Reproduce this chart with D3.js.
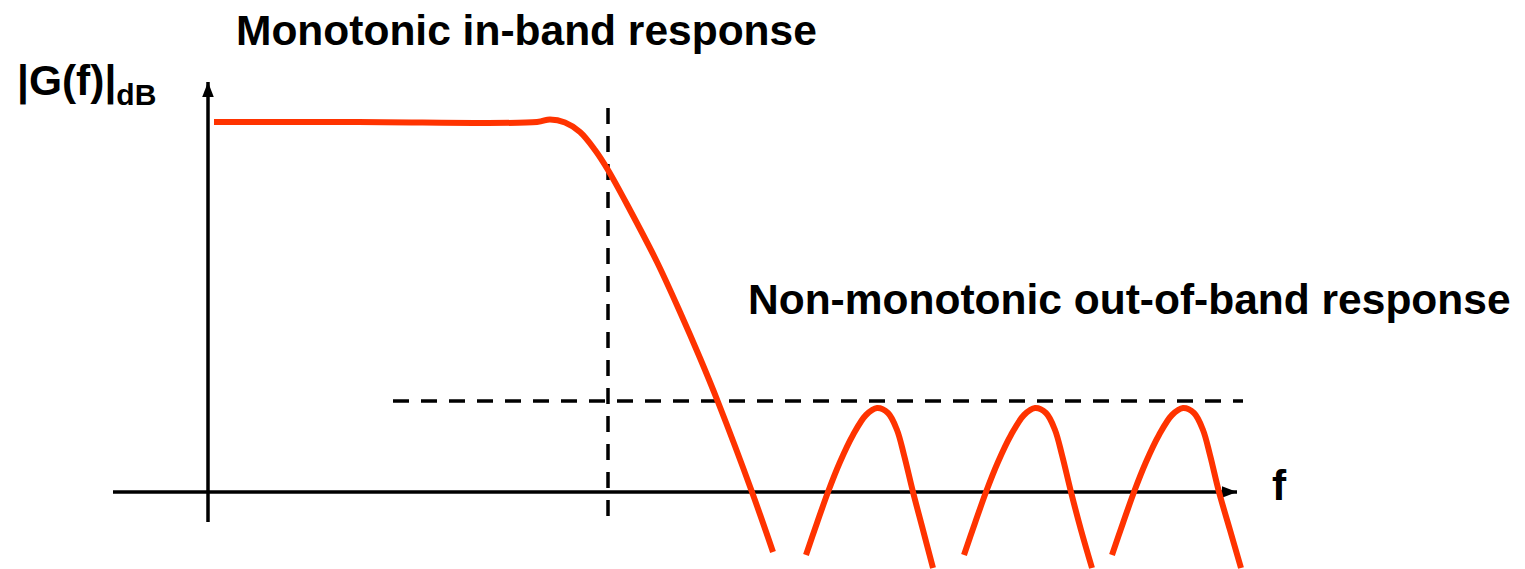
<!DOCTYPE html>
<html>
<head>
<meta charset="utf-8">
<script src="https://cdn.jsdelivr.net/npm/d3@7"></script>
<style>
  body { margin: 0; background: #fff; }
  text { font-family: "Liberation Sans", Arial, sans-serif; font-weight: bold; fill: #000; }
</style>
</head>
<body>
<div id="chart"></div>
<script>
// frequency in arbitrary units, gain in dB (passband = 0 dB)
var passband = [
  [0.06, 0], [1.5, 0], [3.29, 0], [3.42, 0.25], [3.57, -0.05], [3.72, -1],
  [3.87, -2.8], [4.0, -4.8], [4.22, -8.8], [4.49, -14], [4.72, -19],
  [4.92, -23.6], [5.1, -28], [5.44, -37], [5.65, -43]
];
var lobes = [
  [[5.98, -43.3], [6.09, -40.1], [6.2, -37], [6.32, -34], [6.45, -31.3], [6.58, -29.3], [6.69, -28.6],
   [6.8, -29.1], [6.89, -30.8], [6.96, -33.3], [7.05, -37], [7.15, -40.8], [7.25, -44.6]],
  [[7.56, -43.3], [7.67, -40.1], [7.78, -37], [7.9, -34], [8.03, -31.3], [8.16, -29.3], [8.27, -28.6],
   [8.38, -29.1], [8.47, -30.8], [8.54, -33.3], [8.63, -37], [8.73, -40.8], [8.84, -44.6]],
  [[9.04, -43.3], [9.15, -40.1], [9.26, -37], [9.38, -34], [9.51, -31.3], [9.64, -29.3], [9.75, -28.6],
   [9.86, -29.1], [9.95, -30.8], [10.02, -33.3], [10.11, -37], [10.22, -40.8], [10.33, -44.6]]
];
var cutoffF = 4.0;           // vertical dashed line
var stopbandLevel = -27.9;   // horizontal dashed line
var axisLevel = -37;         // where the f axis sits
var labels = {
  top: "Monotonic in-band response",
  side: "Non-monotonic out-of-band response",
  yName: "|G(f)|",
  ySub: "dB",
  xName: "f"
};

var width = 1525, height = 569;
var svg = d3.select("#chart").append("svg")
  .attr("width", width).attr("height", height);

var x = d3.scaleLinear().domain([0, 10]).range([208, 1208]);
var y = d3.scaleLinear().domain([0, -37]).range([122, 492]);

var defs = svg.append("defs");
defs.append("marker")
  .attr("id", "arrow")
  .attr("viewBox", "0 0 10 10")
  .attr("refX", 10).attr("refY", 5)
  .attr("markerWidth", 4.4).attr("markerHeight", 3.4)
  .attr("markerUnits", "strokeWidth")
  .attr("orient", "auto")
  .attr("preserveAspectRatio", "none")
  .append("path").attr("d", "M0,0 L10,5 L0,10 Z").attr("fill", "#000");

// axes
svg.append("line")
  .attr("x1", x(-0.95)).attr("x2", x(10.29))
  .attr("y1", y(axisLevel)).attr("y2", y(axisLevel))
  .attr("stroke", "#000").attr("stroke-width", 3.5)
  .attr("marker-end", "url(#arrow)");
svg.append("line")
  .attr("x1", x(0)).attr("x2", x(0))
  .attr("y1", y(-40)).attr("y2", y(4))
  .attr("stroke", "#000").attr("stroke-width", 3.5)
  .attr("marker-end", "url(#arrow)");

// dashed guides
svg.append("line")
  .attr("x1", x(cutoffF)).attr("x2", x(cutoffF))
  .attr("y1", y(1.4)).attr("y2", y(-39.6))
  .attr("stroke", "#000").attr("stroke-width", 3.5)
  .attr("stroke-dasharray", "16,12");
svg.append("line")
  .attr("x1", x(1.85)).attr("x2", x(10.35))
  .attr("y1", y(stopbandLevel)).attr("y2", y(stopbandLevel))
  .attr("stroke", "#000").attr("stroke-width", 3.5)
  .attr("stroke-dasharray", "16,12");

// response curve
var line = d3.line()
  .x(function(d){ return x(d[0]); })
  .y(function(d){ return y(d[1]); })
  .curve(d3.curveCatmullRom.alpha(0.5));

[passband].concat(lobes).forEach(function(seg){
  svg.append("path")
    .attr("d", line(seg))
    .attr("fill", "none")
    .attr("stroke", "#ff3300")
    .attr("stroke-width", 6);
});

// texts
svg.append("text").attr("x", 236).attr("y", 45)
  .style("font-size", "42.5px").text(labels.top);
svg.append("text").attr("x", 748).attr("y", 314)
  .style("font-size", "42.5px").text(labels.side);
var yl = svg.append("text").attr("x", 17).attr("y", 95).style("font-size", "42.5px");
yl.append("tspan").text(labels.yName);
yl.append("tspan").attr("dy", 10).style("font-size", "30px").text(labels.ySub);
svg.append("text").attr("x", 1272).attr("y", 500)
  .style("font-size", "42.5px").text(labels.xName);
</script>
</body>
</html>
